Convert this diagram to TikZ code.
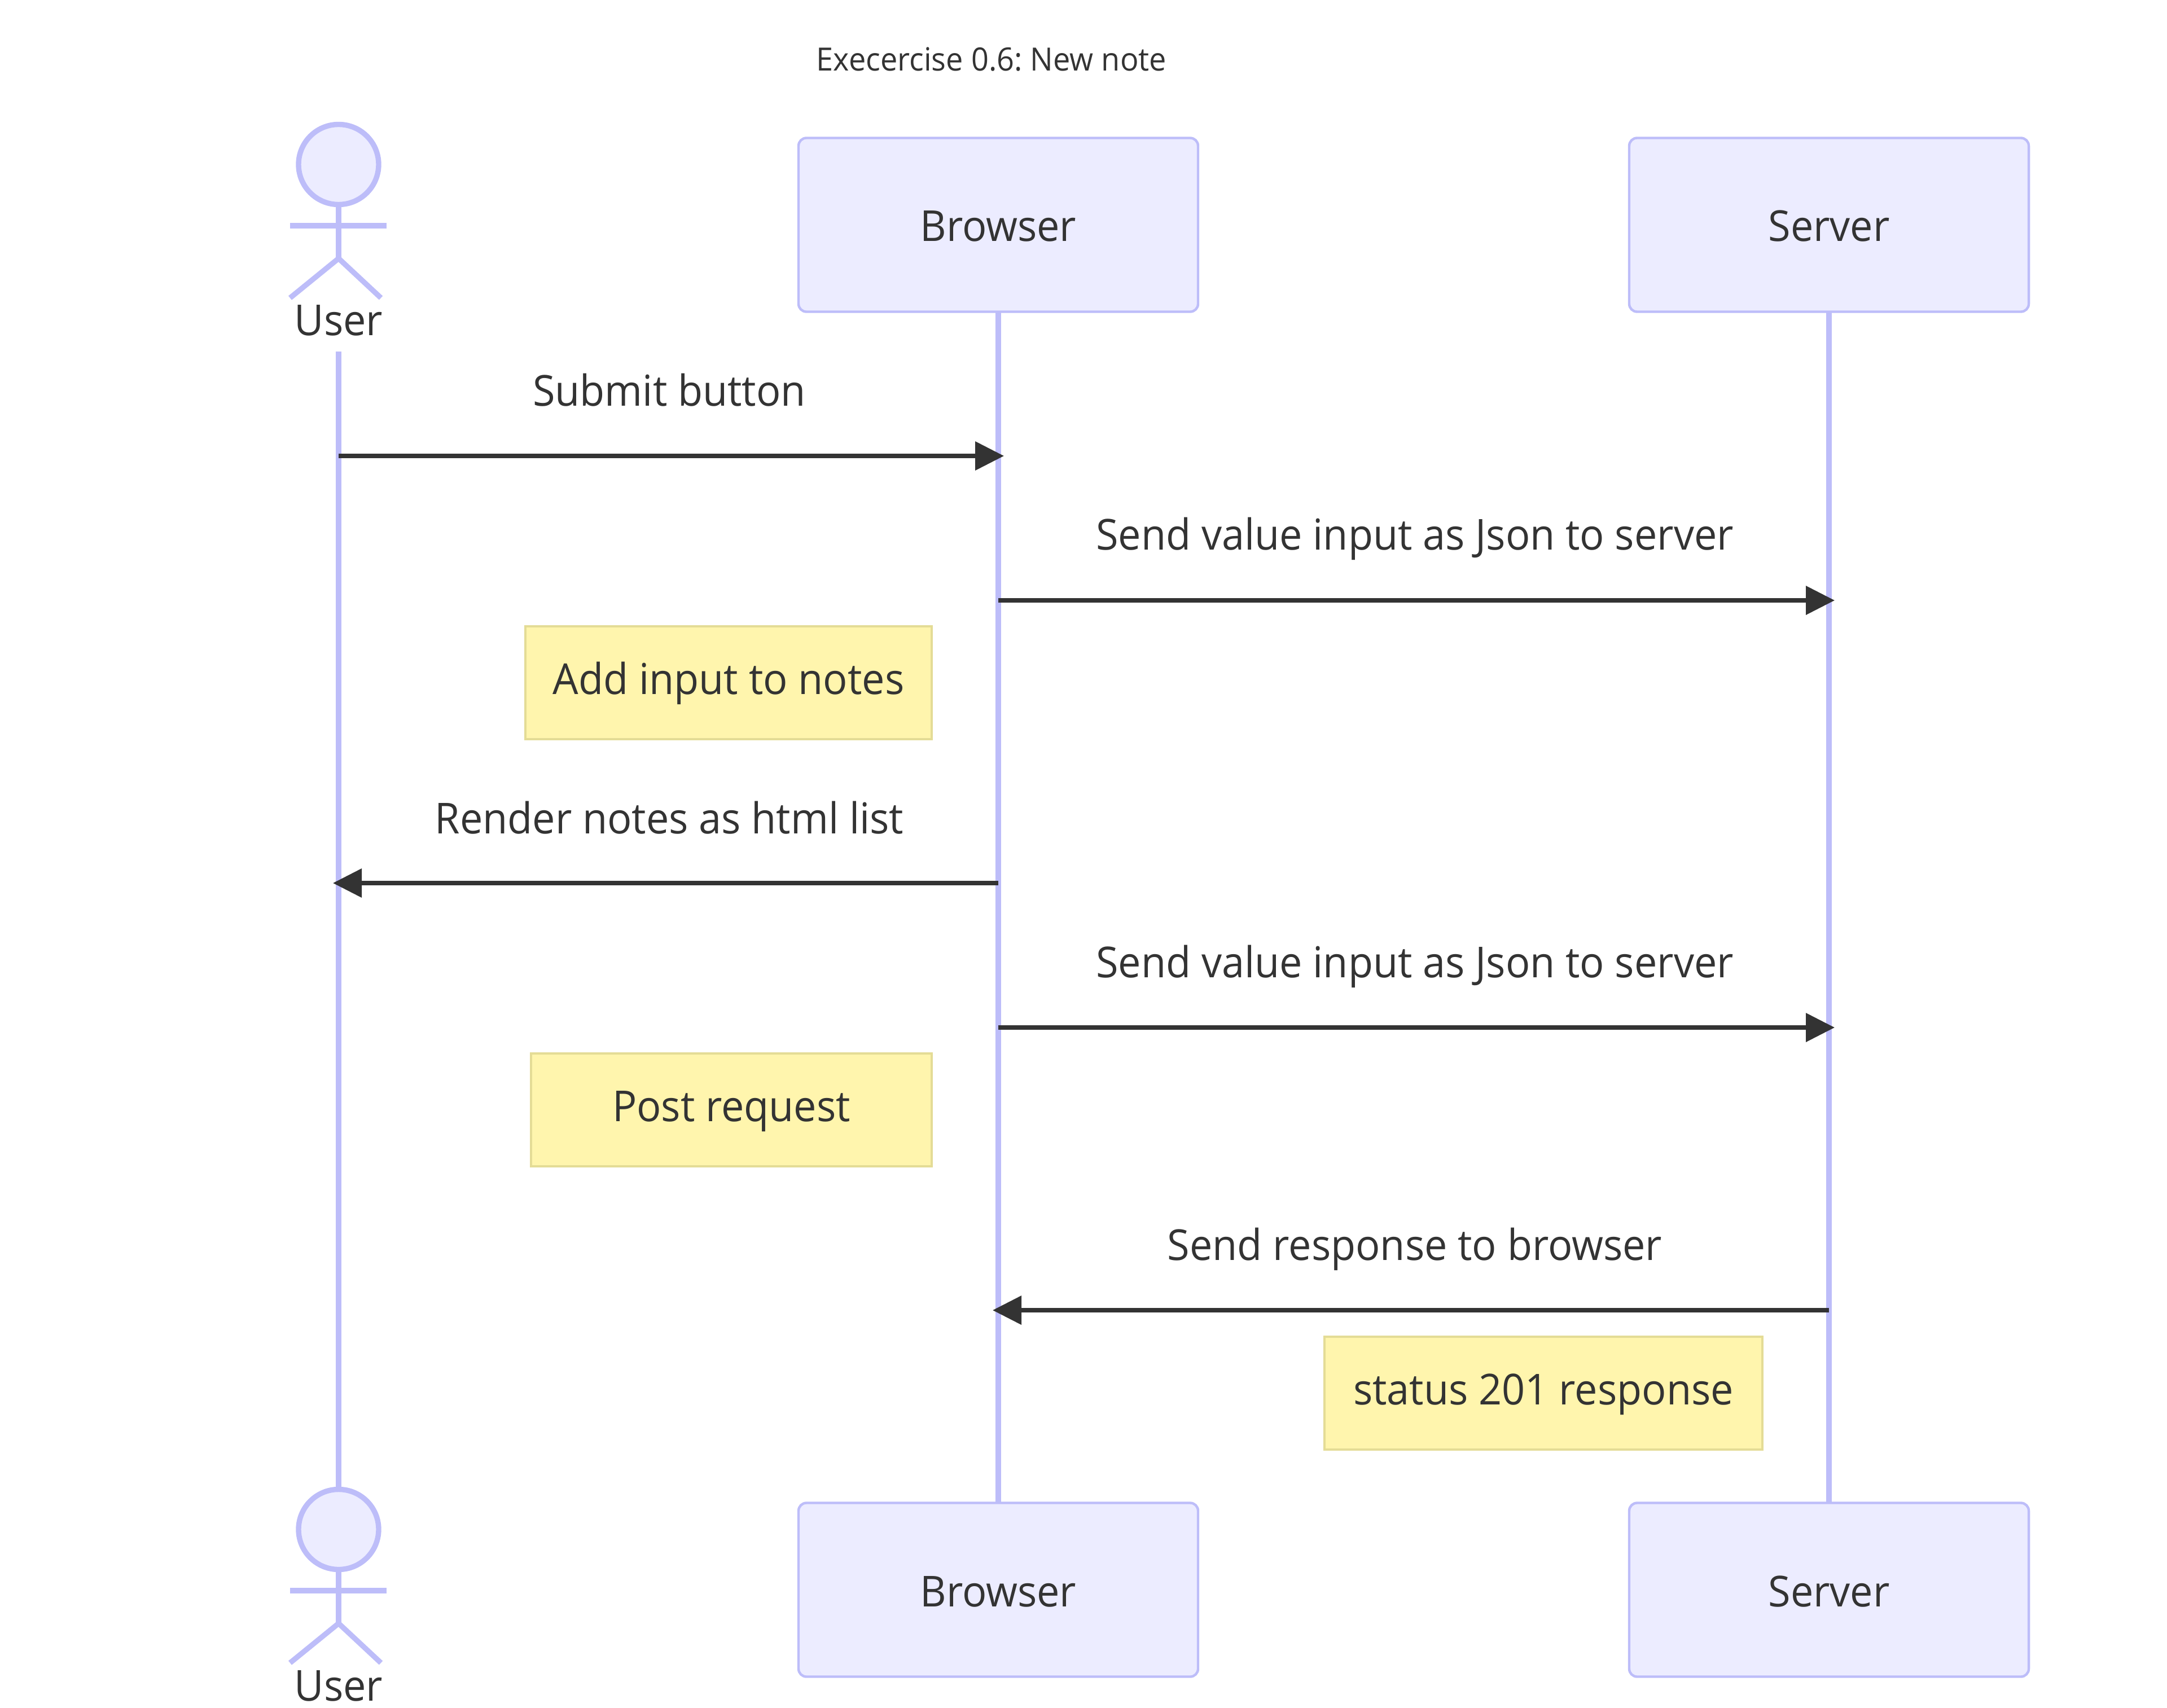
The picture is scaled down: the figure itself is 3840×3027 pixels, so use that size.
\documentclass[tikz,border=0pt]{standalone}
\usepackage{fontspec}
\setmainfont[FakeStretch=0.952]{Open Sans}
\usetikzlibrary{arrows.meta}
\definecolor{actorfill}{HTML}{ECECFF}
\definecolor{actorline}{HTML}{BDBDF9}
\definecolor{notefill}{HTML}{FFF5AD}
\definecolor{noteline}{HTML}{E4DC96}
\definecolor{inkgrey}{HTML}{333333}
\frenchspacing
\tikzset{
  actorbox/.style={draw=actorline,fill=actorfill,line width=1.1pt,rounded corners=3.5pt,
    minimum width=177pt,minimum height=77pt},
  notebox/.style={draw=noteline,fill=notefill,line width=1.1pt,inner sep=0pt,minimum height=50pt},
  msglabel/.style={anchor=base,text=inkgrey,inner sep=0pt,font=\fontsize{18.9pt}{22pt}\selectfont},
  lifeline/.style={actorline,line width=2.3pt},
  msg/.style={inkgrey,line width=1.8pt,-{Triangle[length=12.75pt,width=12.5pt]},shorten >=-2.5pt},
  stickman/.style={actorline,line width=2.35pt}
}
\begin{document}
\begin{tikzpicture}[x=0.25pt,y=-0.25pt]
\useasboundingbox (0,0) rectangle (3840,3027);
\node [msglabel,font=\fontsize{14.2pt}{17pt}\selectfont] (title) at (1757,126) {Execercise 0.6: New note};
% lifelines
\coordinate (userTop) at (600,623);
\coordinate (userEnd) at (600,2640);
\coordinate (browserTop) at (1769,552);
\coordinate (browserEnd) at (1769,2664);
\coordinate (serverTop) at (3241,552);
\coordinate (serverEnd) at (3241,2664);
\draw [lifeline] (userTop) -- (userEnd);
\draw [lifeline] (browserTop) -- (browserEnd);
\draw [lifeline] (serverTop) -- (serverEnd);
% top row
\draw [stickman,fill=actorfill] (600,291.5) circle [radius=71];
\draw [stickman] (600,362) -- (600,458);
\draw [stickman] (514,400) -- (685,400);
\draw [stickman] (514,528) -- (600,458) -- (675,528);
\node [msglabel] (userA) at (600,595) {User};
\node [actorbox] (browserA) at (1769,398.5) {};
\node [msglabel] (browserAtext) at (1769,428) {Browser};
\node [actorbox] (serverA) at (3241,398.5) {};
\node [msglabel] (serverAtext) at (3241,428) {Server};
% bottom row
\draw [stickman,fill=actorfill] (600,2710.5) circle [radius=71];
\draw [stickman] (600,2781) -- (600,2877);
\draw [stickman] (514,2819) -- (685,2819);
\draw [stickman] (514,2947) -- (600,2877) -- (675,2947);
\node [msglabel] (userB) at (600,3014) {User};
\node [actorbox] (browserB) at (1769,2817.5) {};
\node [msglabel] (browserBtext) at (1769,2847) {Browser};
\node [actorbox] (serverB) at (3241,2817.5) {};
\node [msglabel] (serverBtext) at (3241,2847) {Server};
% messages
\coordinate (u1) at (600,808);
\coordinate (b1) at (1769,808);
\coordinate (b2) at (1769,1064);
\coordinate (s2) at (3241,1064);
\coordinate (b3) at (1769,1565);
\coordinate (u3) at (600,1565);
\coordinate (b4) at (1769,1821);
\coordinate (s4) at (3241,1821);
\coordinate (s5) at (3241,2322);
\coordinate (b5) at (1769,2322);
\draw [msg] (u1) -- (b1);
\draw [msg] (b2) -- (s2);
\draw [msg] (b3) -- (u3);
\draw [msg] (b4) -- (s4);
\draw [msg] (s5) -- (b5);
\node [msglabel] (m1) at (1186,719) {Submit button};
\node [msglabel] (m2) at (2507,974) {Send value input as Json to server};
\node [msglabel] (m3) at (1186,1477) {Render notes as html list};
\node [msglabel] (m4) at (2507,1732) {Send value input as Json to server};
\node [msglabel] (m5) at (2507,2233) {Send response to browser};
% notes
\node [notebox,minimum width=180pt] (n1) at (1291,1210) {};
\node [msglabel] (n1text) at (1291,1230) {Add input to notes};
\node [notebox,minimum width=177.5pt] (n2) at (1296,1967) {};
\node [msglabel] (n2text) at (1296,1987) {Post request};
\node [notebox,minimum width=194pt] (n3) at (2735,2469) {};
\node [msglabel] (n3text) at (2735,2489) {status 201 response};
\end{tikzpicture}
\end{document}
